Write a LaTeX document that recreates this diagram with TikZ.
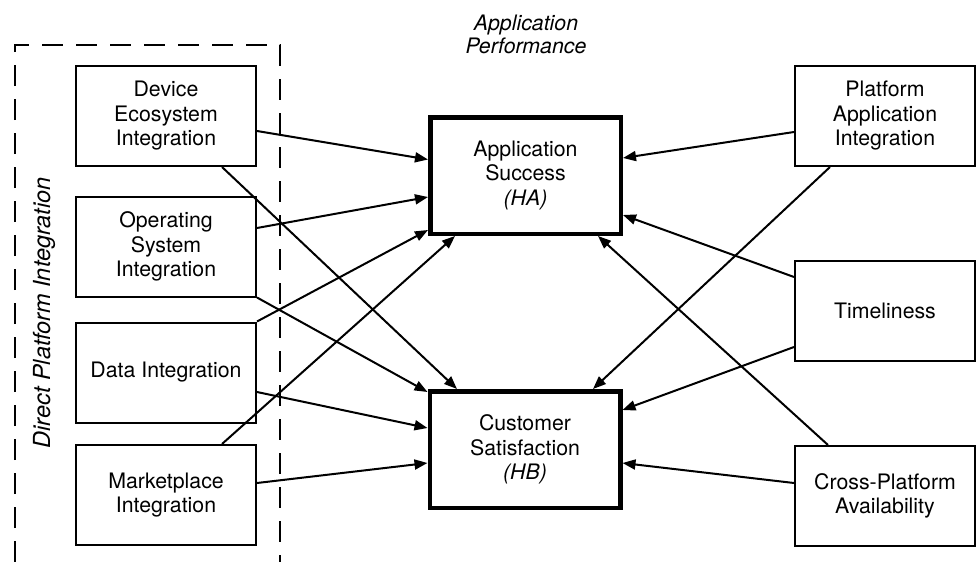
\documentclass[tikz,border=0pt]{standalone}
\usepackage{fontspec}
\setmainfont{TeX Gyre Heros}
\usetikzlibrary{arrows.meta,calc}
\tikzset{
  txt/.style={font=\fontsize{21.3}{24.5}\selectfont, align=center},
  smallbox/.style={txt, draw=black, line width=2pt, minimum width=180pt, minimum height=100pt, inner sep=0pt},
  bigbox/.style={txt, draw=black, line width=4.5pt, minimum width=190.5pt, minimum height=116.5pt, inner sep=0pt},
  conn/.style={line width=2pt, draw=black, -{Triangle[length=13pt,width=10pt]}},
  frame/.style={line width=2pt, dash pattern=on 21pt off 13pt}
}
\begin{document}
\begin{tikzpicture}[x=1pt,y=-1pt]
\useasboundingbox (0,0) rectangle (978,562);
\fill[white] (0,0) rectangle (978,562);

% dashed frame
\draw[frame] (15,562) -- (15,45) -- (280,45) -- (280,562);
\node[txt, font=\fontsize{23.5}{26}\selectfont\itshape, rotate=90] (dpi) at (44,313) {Direct Platform Integration};
\node[txt, font=\fontsize{21.3}{23}\selectfont\itshape] (ap) at (526,34) {Application\\Performance};

% left boxes
\node[smallbox] (dev) at (166,116) {Device\\Ecosystem\\Integration};
\node[smallbox] (os) at (166,246.5) {Operating\\System\\Integration};
\node[smallbox] (data) at (166,372.5) {Data Integration};
\node[smallbox] (mkt) at (166,495) {Marketplace\\Integration};

% right boxes
\node[smallbox] (pl) at (885,116) {Platform\\Application\\Integration};
\node[smallbox] (tm) at (885,311) {Timeliness};
\node[smallbox] (cr) at (885,496) {Cross-Platform\\Availability};

% centre boxes
\node[bigbox] (HA) at (525.5,175.5) {Application\\Success\\{\itshape (HA)}};
\node[bigbox] (HB) at (525,449.5) {Customer\\Satisfaction\\{\itshape (HB)}};

% left connectors
\draw[conn] ($(dev.east)+(0,15)$) -- ($(HA.west)+(0,-16)$);
\draw[conn] ($(dev.south)+(56,0)$) -- ($(HB.north)+(-68,0)$);
\draw[conn] ($(os.east)+(0,-18.5)$) -- ($(HA.west)+(0,21.5)$);
\draw[conn] (os.south east) -- ($(HB.north west)+(0,3)$);
\draw[conn] (data.north east) -- ($(HA.south west)+(0,-6)$);
\draw[conn] ($(data.east)+(0,19.5)$) -- ($(HB.west)+(0,-21.5)$);
\draw[conn] ($(mkt.north)+(56,0)$) -- ($(HA.south)+(-70.5,0)$);
\draw[conn] ($(mkt.east)+(0,-12)$) -- ($(HB.west)+(0,13.5)$);

% right connectors
\draw[conn] ($(pl.west)+(0,16)$) -- ($(HA.east)+(0,-17.5)$);
\draw[conn] ($(pl.south)+(-55,0)$) -- ($(HB.north)+(68,0)$);
\draw[conn] ($(tm.west)+(0,-34)$) -- ($(HA.east)+(0,39.5)$);
\draw[conn] ($(tm.west)+(0,36)$) -- ($(HB.east)+(0,-39.5)$);
\draw[conn] ($(cr.north)+(-57,0)$) -- ($(HA.south)+(72.5,0)$);
\draw[conn] ($(cr.west)+(0,-13)$) -- ($(HB.east)+(0,13.5)$);
\end{tikzpicture}
\end{document}
